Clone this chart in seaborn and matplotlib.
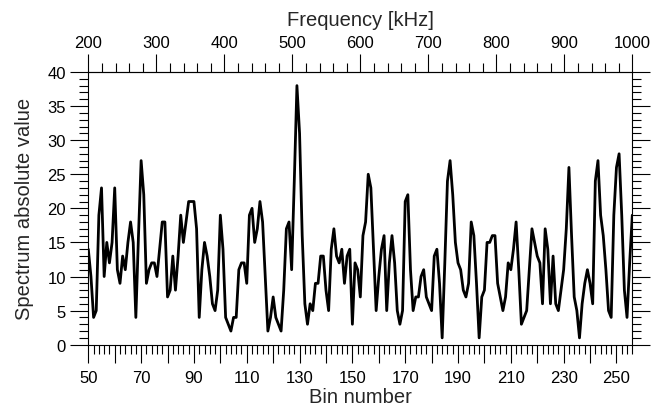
import numpy as np
import pandas as pd
import matplotlib
matplotlib.use('Agg')
import matplotlib.pyplot as plt
from matplotlib.ticker import MultipleLocator, FixedLocator, FuncFormatter
import seaborn as sns

# spectrum values, bins 50..256
bins = list(range(50, 257))
values = [
    14, 10, 4, 5, 19, 23, 10, 15, 12, 15,      # 50-59
    23, 11, 9, 13, 11, 15, 18, 15, 4, 16,      # 60-69
    27, 22, 9, 11, 12, 12, 10, 14, 18, 18,     # 70-79
    7, 8, 13, 8, 13, 19, 15, 18, 21, 21,       # 80-89
    21, 17, 4, 11, 15, 13, 10, 6, 5, 8,        # 90-99
    19, 14, 4, 3, 2, 4, 4, 11, 12, 12,         # 100-109
    9, 19, 20, 15, 17, 21, 18, 10, 2, 4,       # 110-119
    7, 4, 3, 2, 8, 17, 18, 11, 24, 38,         # 120-129
    31, 16, 6, 3, 6, 5, 9, 9, 13, 13,          # 130-139
    8, 5, 14, 17, 13, 12, 14, 9, 13, 14,       # 140-149
    3, 12, 11, 7, 16, 18, 25, 23, 14, 5,       # 150-159
    10, 14, 16, 5, 12, 16, 12, 5, 3, 5,        # 160-169
    21, 22, 11, 5, 7, 7, 10, 11, 7, 6,         # 170-179
    5, 13, 14, 9, 1, 12, 24, 27, 22, 15,       # 180-189
    12, 11, 8, 7, 9, 18, 16, 9, 1, 7,          # 190-199
    8, 15, 15, 16, 16, 9, 7, 5, 7, 12,         # 200-209
    11, 14, 18, 11, 3, 4, 5, 11, 17, 15,       # 210-219
    13, 12, 6, 17, 14, 6, 13, 6, 5, 8,         # 220-229
    11, 17, 26, 16, 7, 5, 1, 6, 9, 11,         # 230-239
    9, 6, 24, 27, 19, 16, 11, 5, 4, 19,        # 240-249
    26, 28, 19, 8, 4, 12, 19,                  # 250-256
]
freq_ticks = list(range(200, 1001, 100))
freq_minor = list(range(200, 1001, 20))
df = pd.DataFrame({'bin': bins, 'value': values})

bin_lo, bin_hi = 50, 256
f_lo, f_hi = 200, 1000


def bin2freq(b):
    return f_lo + (np.asarray(b, dtype=float) - bin_lo) * (f_hi - f_lo) / (bin_hi - bin_lo)


def freq2bin(f):
    return bin_lo + (np.asarray(f, dtype=float) - f_lo) * (bin_hi - bin_lo) / (f_hi - f_lo)


sns.set_style('ticks')
plt.rcParams['font.family'] = ['Liberation Sans', 'DejaVu Sans']
plt.rcParams['axes.linewidth'] = 1.0

fig = plt.figure(figsize=(6.63, 4.14), dpi=100)
ax = fig.add_axes([0.1332, 0.165, 0.8205, 0.6587])

sns.lineplot(data=df, x='bin', y='value', color='black', linewidth=2.0, ax=ax)

ax.set_xlim(bin_lo, bin_hi)
ax.set_ylim(0, 40)

ax.xaxis.set_major_locator(MultipleLocator(10))
ax.xaxis.set_minor_locator(MultipleLocator(2))
ax.xaxis.set_major_formatter(FuncFormatter(lambda v, p: f'{v:.0f}' if round(v - 50) % 20 == 0 else ''))
ax.yaxis.set_major_locator(MultipleLocator(5))
ax.yaxis.set_minor_locator(MultipleLocator(1))

ax.tick_params(which='both', direction='out', colors='black', width=0.8,
               bottom=True, left=True, right=True, top=False, labelsize=12, pad=3)
ax.tick_params(axis='x', which='major', pad=5)
ax.tick_params(which='major', length=13)
ax.tick_params(which='minor', length=6.5)

for s in ax.spines.values():
    s.set_visible(True)
    s.set_color('black')
    s.set_linewidth(0.8)

ax.set_xlabel('Bin number', fontsize=14.5, labelpad=2)
ax.set_ylabel('Spectrum absolute value', fontsize=14.5, labelpad=10)

sec = ax.secondary_xaxis('top', functions=(bin2freq, freq2bin))
sec.xaxis.set_major_locator(FixedLocator(freq_ticks))
sec.xaxis.set_minor_locator(FixedLocator(freq_minor))
sec.tick_params(which='both', direction='out', colors='black', width=0.8, labelsize=12, pad=3)
sec.tick_params(which='major', length=13)
sec.tick_params(which='minor', length=6.5)
sec.spines['top'].set_linewidth(0.8)
sec.set_xlabel('Frequency [kHz]', fontsize=14.5, labelpad=7)

fig.savefig('out.png', dpi=100)
